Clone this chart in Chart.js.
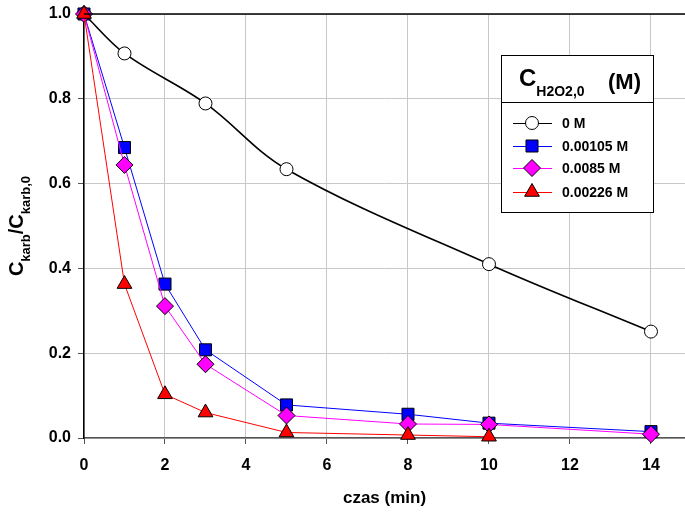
<!DOCTYPE html>
<html>
<head>
<meta charset="utf-8">
<script src="https://cdn.jsdelivr.net/npm/chart.js@4/dist/chart.umd.min.js"></script>
<style>
  html, body { margin: 0; padding: 0; background: #fff; }
  #wrap { width: 685px; height: 513px; }
</style>
</head>
<body>
<div id="wrap"><canvas id="decay"></canvas></div>
<script>
// time points (min)
const tBlank = [0, 1, 3, 5, 10, 14];
const tRun = [0, 1, 2, 3, 5, 8, 10, 14];
const tRed = [0, 1, 2, 3, 5, 8, 10];

// C_karb / C_karb,0 for each H2O2 dose
const c0M = [1.0, 0.907, 0.789, 0.634, 0.410, 0.251];
const c00105M = [1.0, 0.685, 0.363, 0.208, 0.078, 0.056, 0.035, 0.015];
const c0085M = [1.0, 0.644, 0.311, 0.174, 0.053, 0.033, 0.032, 0.009];
const c00226M = [1.0, 0.363, 0.103, 0.060, 0.013, 0.007, 0.003];

const seriesNames = ['0 M', '0.00105 M', '0.0085 M', '0.00226 M'];
const xTicks = [0, 2, 4, 6, 8, 10, 12, 14];

const FONT = '"Liberation Sans", Arial, sans-serif';

function pts(xs, ys) {
  return xs.map((x, i) => ({ x: x, y: ys[i] }));
}

const styles = [
  { line: '#000000', fill: '#ffffff', shape: 'circle', r: 6.5, w: 1.6 },
  { line: '#0000ff', fill: '#0000ff', shape: 'rect', r: 8.5, w: 1 },
  { line: '#ff00ff', fill: '#ff00ff', shape: 'rectRot', r: 8.5, w: 1 },
  { line: '#ff0000', fill: '#ff0000', shape: 'triangle', r: 8.5, w: 1 }
];

function makeSet(i, data, tension) {
  const s = styles[i];
  return {
    label: seriesNames[i],
    data: data,
    borderColor: s.line,
    borderWidth: s.w,
    pointStyle: s.shape,
    pointRadius: s.r,
    pointHoverRadius: s.r,
    pointBackgroundColor: s.fill,
    pointBorderColor: '#000000',
    pointBorderWidth: 1,
    tension: tension,
    clip: false,
    order: 3 - i
  };
}

// draws text with a subscript, returns the advance
function subText(ctx, x, y, main, sub, mainPx, subPx, drop) {
  ctx.font = 'bold ' + mainPx + 'px ' + FONT;
  ctx.fillText(main, x, y);
  const w1 = ctx.measureText(main).width;
  ctx.font = 'bold ' + subPx + 'px ' + FONT;
  ctx.fillText(sub, x + w1, y + drop);
  return w1 + ctx.measureText(sub).width;
}

function marker(ctx, s, x, y) {
  Chart.helpers.drawPoint(ctx, { pointStyle: s.shape, radius: s.r, rotation: 0, borderWidth: 1 }, x, y);
}

const extras = {
  id: 'extras',
  afterDraw(chart) {
    const ctx = chart.ctx;
    const area = chart.chartArea;
    ctx.save();

    // top frame line
    ctx.strokeStyle = '#000';
    ctx.lineWidth = 1.5;
    ctx.beginPath();
    ctx.moveTo(area.left, area.top);
    ctx.lineTo(area.right, area.top);
    ctx.stroke();

    ctx.fillStyle = '#000';
    ctx.textBaseline = 'alphabetic';
    ctx.textAlign = 'left';

    // x title
    ctx.font = 'bold 17px ' + FONT;
    ctx.textAlign = 'center';
    ctx.fillText('czas (min)', (area.left + area.right) / 2, 503);
    ctx.textAlign = 'left';

    // y title, rotated
    ctx.save();
    ctx.translate(23, (area.top + area.bottom) / 2);
    ctx.rotate(-Math.PI / 2);
    ctx.font = 'bold 20px ' + FONT;
    const wc = ctx.measureText('C').width;
    const ws = ctx.measureText('/').width;
    ctx.font = 'bold 13px ' + FONT;
    const wk = ctx.measureText('karb').width;
    const wk0 = ctx.measureText('karb,0').width;
    let x = -(wc * 2 + ws + wk + wk0) / 2;
    x += subText(ctx, x, 0, 'C', 'karb', 20, 13, 7);
    ctx.font = 'bold 20px ' + FONT;
    ctx.fillText('/', x, 0);
    x += ws;
    subText(ctx, x, 0, 'C', 'karb,0', 20, 13, 7);
    ctx.restore();

    // legend box
    const L = 501, R = 653, T = 55, M = 102, B = 212;
    ctx.fillStyle = '#fff';
    ctx.fillRect(L, T, R - L, B - T);
    ctx.strokeStyle = '#000';
    ctx.lineWidth = 1;
    ctx.strokeRect(L + 0.5, T + 0.5, R - L, B - T);
    ctx.beginPath();
    ctx.moveTo(L, M + 0.5);
    ctx.lineTo(R + 1, M + 0.5);
    ctx.stroke();

    ctx.fillStyle = '#000';
    subText(ctx, 519, 86, 'C', 'H2O2,0', 24, 14, 10);
    ctx.font = 'bold 22px ' + FONT;
    ctx.fillText('(M)', 608, 89);

    const rows = [123, 146, 168, 192];
    rows.forEach((yy, i) => {
      const s = styles[i];
      ctx.strokeStyle = s.line;
      ctx.lineWidth = 1;
      ctx.beginPath();
      ctx.moveTo(513, yy + 0.5);
      ctx.lineTo(552, yy + 0.5);
      ctx.stroke();
      ctx.fillStyle = s.fill;
      ctx.strokeStyle = '#000';
      marker(ctx, s, 532, yy);
      ctx.fillStyle = '#000';
      ctx.font = 'bold 14px ' + FONT;
      ctx.fillText(seriesNames[i], 562, yy + 5);
    });

    ctx.restore();
  }
};

document.addEventListener('DOMContentLoaded', () => {
  const ctx = document.getElementById('decay').getContext('2d');

  new Chart(ctx, {
    type: 'line',
    data: {
      datasets: [
        makeSet(0, pts(tBlank, c0M), 0.35),
        makeSet(1, pts(tRun, c00105M), 0),
        makeSet(2, pts(tRun, c0085M), 0),
        makeSet(3, pts(tRed, c00226M), 0)
      ]
    },
    options: {
      responsive: true,
      maintainAspectRatio: false,
      animation: false,
      events: [],
      layout: { autoPadding: false, padding: { top: 14, right: 0, left: 0, bottom: 0 } },
      plugins: {
        legend: { display: false },
        tooltip: { enabled: false }
      },
      scales: {
        x: {
          type: 'linear',
          min: 0,
          max: 14.84,
          afterFit: s => { s.height = 75; s.paddingLeft = 0; s.paddingRight = 0; },
          afterBuildTicks: s => { s.ticks = xTicks.map(v => ({ value: v })); },
          ticks: {
            color: '#000',
            padding: 12,
            font: { family: FONT, size: 16, weight: 'bold' },
            maxRotation: 0
          },
          grid: { color: '#c8c8c8', lineWidth: 1, tickColor: '#555', tickLength: 6 },
          border: { color: '#555', width: 1.5 }
        },
        y: {
          min: 0,
          max: 1,
          afterFit: s => { s.width = 84; s.paddingTop = 0; s.paddingBottom = 0; },
          ticks: {
            stepSize: 0.2,
            color: '#000',
            padding: 7,
            font: { family: FONT, size: 16, weight: 'bold' },
            callback: v => v.toFixed(1)
          },
          grid: { color: '#c8c8c8', lineWidth: 1, tickColor: '#555', tickLength: 6 },
          border: { color: '#000', width: 1.5 }
        }
      }
    },
    plugins: [extras]
  });
});
</script>
</body>
</html>
